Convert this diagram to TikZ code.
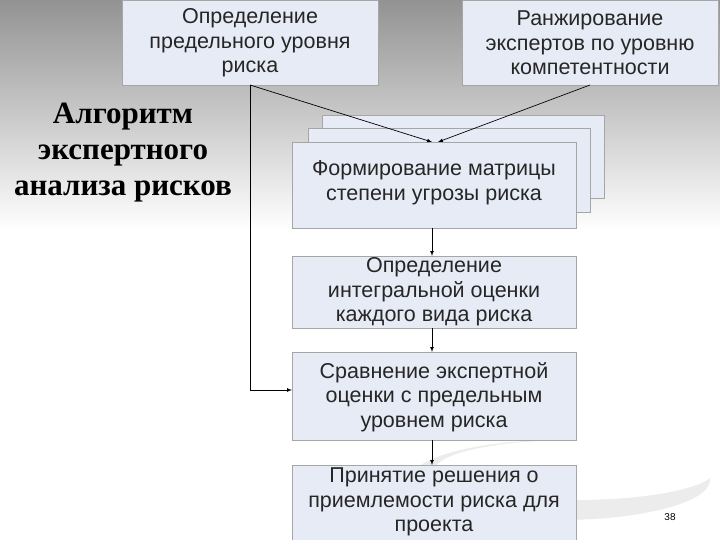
\documentclass[tikz,border=0pt]{standalone}
\usepackage{fontspec}
\setmainfont{Liberation Sans}
\newfontfamily\serifb{Liberation Serif}
\begin{document}
\begin{tikzpicture}[x=1pt,y=-1pt,
  bx/.style={draw=gray!70,fill={rgb,255:red,231;green,235;blue,245},line width=0.8pt},
  tx/.style={align=center,font=\fontsize{21.5}{24.5}\selectfont,text=black!85,inner sep=0pt},
  ar/.style={-latex,line width=0.7pt}]
\useasboundingbox (0,0) rectangle (720,540);
\shade[top color=gray!85,bottom color=white] (0,0) rectangle (720,230);
\fill[white] (0,230) rectangle (720,540);
\fill[gray!15] (560,480) ellipse (150 and 40);
\fill[white] (575,470) ellipse (140 and 30);
% top boxes
\draw[bx] (122,0) rectangle (378,85);
\node[tx] (a) at (250,43) {Определение\\предельного уровня\\риска};
\draw[bx] (462,0) rectangle (718,85);
\node[tx] (b) at (590,43) {Ранжирование\\экспертов по уровню\\компетентности};
% stack
\draw[bx] (322,115) rectangle (604,198);
\draw[bx] (308,128) rectangle (590,212);
\draw[bx] (292,142) rectangle (576,228);
\node[tx] (c) at (434,183) {Формирование матрицы\\степени угрозы риска};
\draw[bx] (292,256) rectangle (576,328);
\node[tx] (d) at (434,292) {Определение\\интегральной оценки\\каждого вида риска};
\draw[bx] (292,352) rectangle (576,440);
\node[tx] (e) at (434,397) {Сравнение экспертной\\оценки с предельным\\уровнем риска};
\draw[bx] (292,465) rectangle (576,545);
\node[tx] (f) at (434,502) {Принятие решения о\\приемлемости риска для\\проекта};
\coordinate (a1) at (250,85);
\coordinate (b1) at (590,85);
\coordinate (ct) at (432,142);
\coordinate (ct2) at (438,142);
\draw[ar] (a1) -- (ct);
\draw[ar] (b1) -- (ct2);
\draw[ar] (432,228) -- (432,256);
\draw[ar] (432,328) -- (432,352);
\draw[ar] (432,440) -- (432,465);
\coordinate (el) at (292,390);
\draw[ar] (a1) -- (250,390) -- (el);
\node[font=\serifb\bfseries\fontsize{31}{36}\selectfont,align=center,inner sep=0pt] (t) at (123,153) {Алгоритм\\экспертного\\анализа рисков};
\node[font=\fontsize{10}{12}\selectfont] (n) at (670,517) {38};
\end{tikzpicture}
\end{document}
